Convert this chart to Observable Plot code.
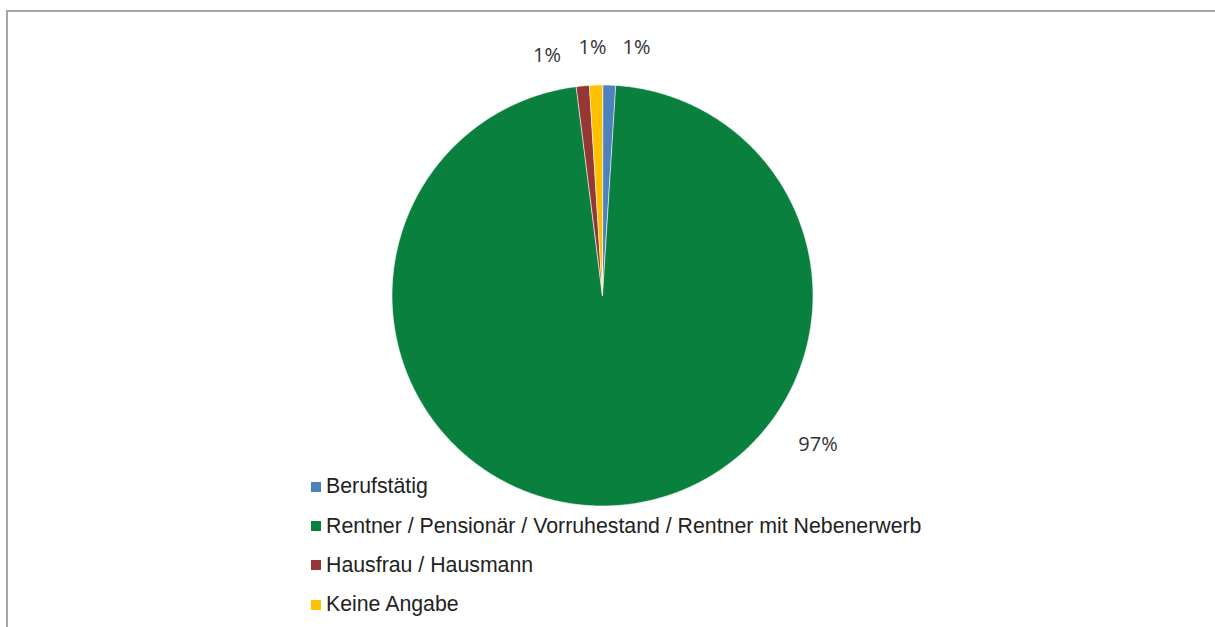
<!DOCTYPE html>
<html>
<head>
<meta charset="utf-8">
<script src="https://cdn.jsdelivr.net/npm/d3@7"></script>
<script src="https://cdn.jsdelivr.net/npm/@observablehq/plot@0.6"></script>
<style>
  html, body { margin: 0; padding: 0; background: #fff; }
  #wrap { position: relative; width: 1215px; height: 627px; overflow: hidden; }
  #frame { position: absolute; left: 6px; top: 10px; right: -4px; bottom: -4px;
           border-top: 2px solid #a6a6a6; border-left: 2px solid #a6a6a6; }
  #chart { position: absolute; left: 0; top: 0; }
  #legend { position: absolute; left: 311px; top: 467px;
            font-family: Arial, "Liberation Sans", Helvetica, sans-serif; font-size: 21.3px; color: #222; }
  .row { display: flex; align-items: center; height: 39.4px; white-space: nowrap; }
  .sw { width: 10px; height: 10px; margin-right: 5px; flex: none; }
</style>
</head>
<body>
<div id="wrap">
  <div id="frame"></div>
  <div id="chart"></div>
  <div id="legend"></div>
</div>
<script>
// ---- data ----
const categories = [
  "Berufstätig",
  "Rentner / Pensionär / Vorruhestand / Rentner mit Nebenerwerb",
  "Hausfrau / Hausmann",
  "Keine Angabe"
];
const values = [1, 97, 1, 1];
const colors = ["#4f81bd", "#0a803e", "#953735", "#ffc000"];

// ---- label layout (angle clockwise from top in degrees, distance in radii) ----
const labelAngle = [7.8, 124.7, -13.0, -2.3];
const labelDist = [1.19, 1.245, 1.17, 1.18];

// ---- layout ----
const W = 1215, H = 627;
const cx = 602, cy = 295, R = 210.5;

const table = categories.map((c, i) => ({ name: c, value: values[i] }));
const pie = d3.pie().sort(null).value(d => d.value)(table);

// sample each slice as a polygon in unit-radius coordinates (y up)
const pts = [];
pie.forEach(p => {
  const n = Math.max(4, Math.ceil((p.endAngle - p.startAngle) / (Math.PI / 360)));
  pts.push({ name: p.data.name, x: 0, y: 0 });
  for (let k = 0; k <= n; k++) {
    const a = p.startAngle + (p.endAngle - p.startAngle) * k / n;
    pts.push({ name: p.data.name, x: Math.sin(a), y: Math.cos(a) });
  }
});

const labels = pie.map((p, i) => {
  const a = labelAngle[i] * Math.PI / 180;
  return { text: Math.round(p.data.value / d3.sum(values) * 100) + "%",
           x: labelDist[i] * Math.sin(a), y: labelDist[i] * Math.cos(a) };
});

const plot = Plot.plot({
  width: W, height: H,
  margin: 0,
  x: { domain: [-cx / R, (W - cx) / R], axis: null },
  y: { domain: [-(H - cy) / R, cy / R], axis: null },
  color: { domain: categories, range: colors },
  style: { background: "transparent", overflow: "visible" },
  marks: [
    Plot.line(pts, { x: "x", y: "y", z: "name", fill: "name", stroke: "white",
                     strokeWidth: 0.6, curve: "linear-closed" }),
    Plot.text(labels, { x: "x", y: "y", text: "text", fill: "#333333",
                        fontSize: 20, fontFamily: "Open Sans, Noto Sans, sans-serif" })
  ]
});
document.getElementById("chart").appendChild(plot);

// legend
const leg = d3.select("#legend");
categories.forEach((c, i) => {
  const row = leg.append("div").attr("class", "row");
  row.append("div").attr("class", "sw").style("background", colors[i]);
  row.append("span").text(c);
});
</script>
</body>
</html>
